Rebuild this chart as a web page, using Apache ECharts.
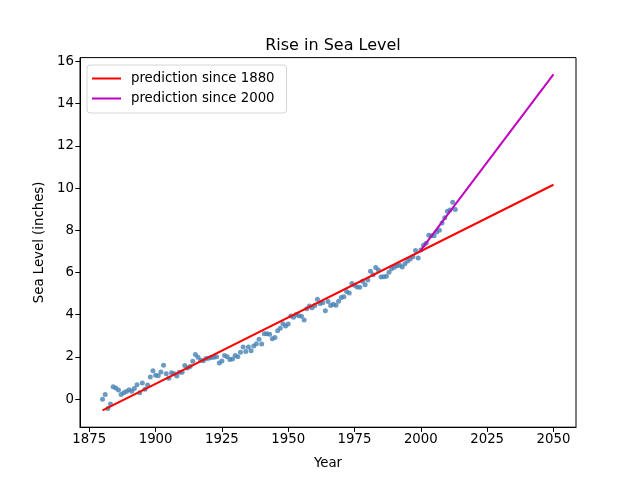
<!DOCTYPE html>
<html>
<head>
<meta charset="utf-8">
<script src="https://cdn.jsdelivr.net/npm/echarts@6/dist/echarts.min.js"></script>
<style>html,body{margin:0;padding:0;background:#fff}#c{width:640px;height:480px}</style>
</head>
<body>
<div id="c"></div>
<script>
const years = [1880,1881,1882,1883,1884,1885,1886,1887,1888,1889,1890,1891,1892,1893,1894,1895,1896,1897,1898,1899,
1900,1901,1902,1903,1904,1905,1906,1907,1908,1909,1910,1911,1912,1913,1914,1915,1916,1917,1918,1919,
1920,1921,1922,1923,1924,1925,1926,1927,1928,1929,1930,1931,1932,1933,1934,1935,1936,1937,1938,1939,
1940,1941,1942,1943,1944,1945,1946,1947,1948,1949,1950,1951,1952,1953,1954,1955,1956,1957,1958,1959,
1960,1961,1962,1963,1964,1965,1966,1967,1968,1969,1970,1971,1972,1973,1974,1975,1976,1977,1978,1979,
1980,1981,1982,1983,1984,1985,1986,1987,1988,1989,1990,1991,1992,1993,1994,1995,1996,1997,1998,1999,
2000,2001,2002,2003,2004,2005,2006,2007,2008,2009,2010,2011,2012,2013];
const seaLevel = [0.000,0.220,-0.441,-0.232,0.591,0.531,0.437,0.217,0.299,0.362,0.441,0.374,0.500,0.685,0.303,0.768,0.469,0.673,1.043,1.339,
1.126,1.110,1.291,1.606,1.201,0.984,1.252,1.197,1.098,1.276,1.272,1.598,1.476,1.547,1.795,2.110,1.984,1.846,1.819,1.919,
1.933,1.969,1.984,2.012,1.713,1.803,2.063,2.002,1.874,1.906,2.067,2.012,2.220,2.465,2.252,2.472,2.287,2.520,2.626,2.831,
2.606,3.094,3.098,3.075,2.866,2.925,3.236,3.358,3.575,3.469,3.559,3.937,3.874,4.012,3.945,3.929,3.748,4.280,4.413,4.331,
4.433,4.736,4.531,4.567,4.181,4.622,4.433,4.492,4.453,4.642,4.811,4.854,5.098,5.028,5.472,5.390,5.311,5.299,5.587,5.413,
5.638,6.053,5.893,6.236,6.122,5.780,5.799,5.823,6.012,6.177,6.248,6.323,6.343,6.264,6.409,6.539,6.634,6.748,7.043,6.685,
7.063,7.287,7.382,7.760,7.740,7.744,7.917,7.996,8.350,8.587,8.902,8.965,9.327,8.980];
const xTicks = [1875,1900,1925,1950,1975,2000,2025,2050];
const yTicks = [0,2,4,6,8,10,12,14,16];
const seriesNames = ['prediction since 1880','prediction since 2000'];
const fitStarts = [1880, 2000];
const fitEnd = 2050;

function fitLine(startYear){
  const xs=[], ys=[];
  years.forEach((y,i)=>{ if(y>=startYear){ xs.push(y); ys.push(seaLevel[i]); } });
  const n=xs.length;
  const mx=xs.reduce((a,b)=>a+b,0)/n, my=ys.reduce((a,b)=>a+b,0)/n;
  let sxy=0,sxx=0;
  for(let i=0;i<n;i++){ sxy+=(xs[i]-mx)*(ys[i]-my); sxx+=(xs[i]-mx)*(xs[i]-mx); }
  const slope=sxy/sxx, intercept=my-slope*mx;
  return [[startYear, slope*startYear+intercept],[fitEnd, slope*fitEnd+intercept]];
}
const fit1 = fitLine(fitStarts[0]);
const fit2 = fitLine(fitStarts[1]);

const font = 'DejaVu Sans';
const chart = echarts.init(document.getElementById('c'), null, {renderer:'canvas'});
chart.setOption({
  animation:false,
  backgroundColor:'#ffffff',
  textStyle:{fontFamily:font},
  title:{text:'Rise in Sea Level', left:328, top:33, textAlign:'center',
    textStyle:{fontFamily:font, fontSize:16, fontWeight:'normal', color:'#000'}},
  grid:{left:80, right:64, top:57.6, bottom:52.8, show:true, borderColor:'#000', borderWidth:1, backgroundColor:'transparent'},
  legend:{
    orient:'vertical', left:87, top:65, data:seriesNames,
    icon:'rect', itemWidth:29, itemHeight:2, itemGap:7,
    padding:[7,12,8,5],
    borderColor:'#d6d6d6', borderWidth:1, borderRadius:3, backgroundColor:'rgba(255,255,255,0.8)',
    textStyle:{fontFamily:font, fontSize:13.3, color:'#000', padding:[0,0,0,5]}
  },
  xAxis:{
    type:'value', min:1871.5, max:2058.5,
    name:'Year', nameLocation:'middle', nameGap:30,
    nameTextStyle:{fontFamily:font, fontSize:13.3, color:'#000'},
    axisLine:{show:true, onZero:false, lineStyle:{color:'#000', width:1}},
    axisTick:{show:true, length:4.7, customValues:xTicks, lineStyle:{color:'#000'}},
    axisLabel:{customValues:xTicks, margin:6, fontFamily:font, fontSize:13.3, color:'#000',
      formatter:v=>String(v)},
    splitLine:{show:false}
  },
  yAxis:{
    type:'value', min:-1.33, max:16.18,
    name:'Sea Level (inches)', nameLocation:'middle', nameGap:34,
    nameTextStyle:{fontFamily:font, fontSize:13.3, color:'#000'},
    axisLine:{show:true, onZero:false, lineStyle:{color:'#000', width:1}},
    axisTick:{show:true, length:4.7, customValues:yTicks, lineStyle:{color:'#000'}},
    axisLabel:{customValues:yTicks, margin:6, fontFamily:font, fontSize:13.3, color:'#000',
      formatter:v=>String(v)},
    splitLine:{show:false}
  },
  series:[
    {type:'scatter', name:'data', data:years.map((y,i)=>[y,seaLevel[i]]), symbolSize:5,
      itemStyle:{color:'#4682b4', opacity:0.8}, z:2},
    {type:'line', name:seriesNames[0], data:fit1, showSymbol:false, symbol:'none',
      lineStyle:{color:'#ff0000', width:2}, itemStyle:{color:'#ff0000'}, z:3},
    {type:'line', name:seriesNames[1], data:fit2, showSymbol:false, symbol:'none',
      lineStyle:{color:'#bf00bf', width:2}, itemStyle:{color:'#bf00bf'}, z:3}
  ]
});
</script>
</body>
</html>
